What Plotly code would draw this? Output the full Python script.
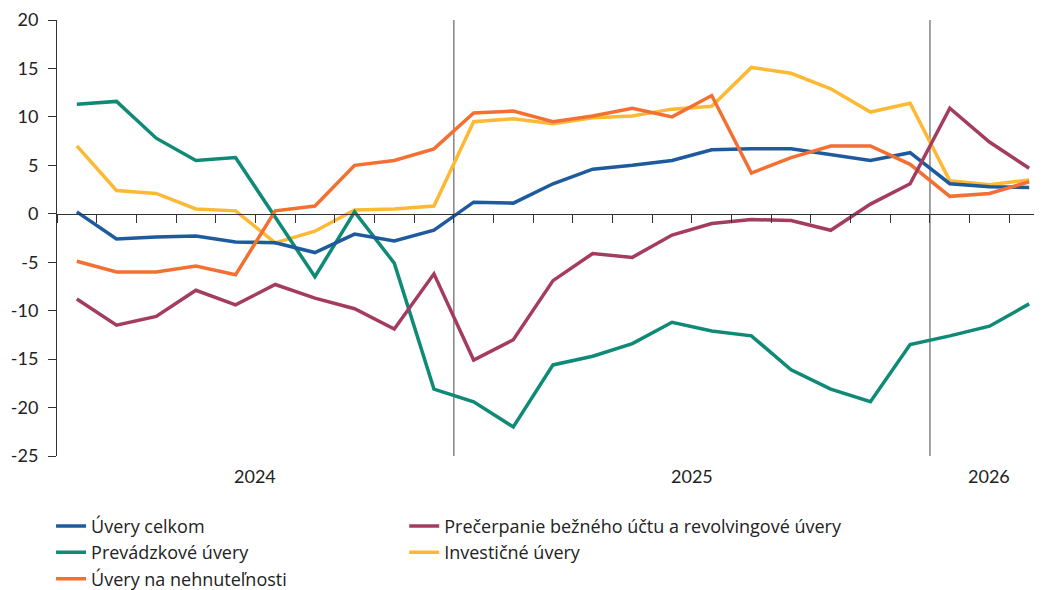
import plotly.graph_objects as go

months = (["%02d/2024" % m for m in range(3, 13)]
          + ["%02d/2025" % m for m in range(1, 13)]
          + ["%02d/2026" % m for m in range(1, 4)])

uvery_celkom = [0.2, -2.6, -2.4, -2.3, -2.9, -3.0, -4.0, -2.1, -2.8, -1.7, 1.2, 1.1, 3.1,
                4.6, 5.0, 5.5, 6.6, 6.7, 6.7, 6.1, 5.5, 6.3, 3.1, 2.8, 2.7]
prevadzkove = [11.3, 11.6, 7.8, 5.5, 5.8, -0.4, -6.5, 0.2, -5.1, -18.1, -19.4, -22.0, -15.6,
               -14.7, -13.4, -11.2, -12.1, -12.6, -16.1, -18.1, -19.4, -13.5, -12.6, -11.6, -9.3]
nehnutelnosti = [-4.9, -6.0, -6.0, -5.4, -6.3, 0.3, 0.8, 5.0, 5.5, 6.7, 10.4, 10.6, 9.5,
                 10.1, 10.9, 10.0, 12.2, 4.2, 5.8, 7.0, 7.0, 5.1, 1.8, 2.1, 3.3]
precerpanie = [-8.8, -11.5, -10.6, -7.9, -9.4, -7.3, -8.7, -9.8, -11.9, -6.2, -15.1, -13.0, -6.9,
               -4.1, -4.5, -2.2, -1.0, -0.6, -0.7, -1.7, 1.0, 3.1, 10.9, 7.4, 4.7]
investicne = [7.0, 2.4, 2.1, 0.5, 0.3, -3.0, -1.8, 0.4, 0.5, 0.8, 9.5, 9.8, 9.3,
              9.9, 10.1, 10.8, 11.1, 15.1, 14.5, 12.9, 10.5, 11.4, 3.4, 3.0, 3.5]

y_tickvals = [20, 15, 10, 5, 0, -5, -10, -15, -20, -25]
y_ticktext = ["20", "15", "10", "5", "0", "-5", "-10", "-15", "-20", "-25"]

years = ["2024", "2025", "2026"]
year_centers = [4.5, 15.5, 23.0]
year_breaks = [9.5, 21.5]

FONT = "Lato"
LEG_FONT = "Open Sans"
TXT = "#222222"

# (name, values, colour, legend, rank) in drawing order (last drawn on top)
series = [
    ("Investičné úvery", investicne, "#fdb933", "legend2", 2),
    ("Prevádzkové úvery", prevadzkove, "#0e8a77", "legend", 2),
    ("Úvery celkom", uvery_celkom, "#1d5a9e", "legend", 1),
    ("Úvery na nehnuteľnosti", nehnutelnosti, "#f37032", "legend", 3),
    ("Prečerpanie bežného účtu a revolvingové úvery", precerpanie, "#a43b60", "legend2", 1),
]

fig = go.Figure()
for name, vals, col, leg, rank in series:
    fig.add_trace(go.Scatter(x=months, y=vals, mode="lines", name=name,
                             line=dict(color=col, width=3.5), legend=leg, legendrank=rank))

for xb in year_breaks:
    fig.add_shape(type="line", xref="x", yref="paper", x0=xb, x1=xb, y0=0, y1=1,
                  line=dict(color="#8c8c8c", width=1.6), layer="below")

for yr, xc in zip(years, year_centers):
    fig.add_annotation(text=yr, x=xc, xref="x", y=-0.0457, yref="paper",
                       yanchor="middle", xanchor="center", showarrow=False,
                       font=dict(family=FONT, size=18, color=TXT))

leg_common = dict(orientation="v", yanchor="top", xanchor="left", tracegroupgap=0,
                  font=dict(family=LEG_FONT, size=18, color=TXT), bgcolor="rgba(0,0,0,0)",
                  traceorder="normal")

fig.update_layout(
    width=1042, height=590,
    margin=dict(l=49, r=1, t=12, b=142, autoexpand=False),
    plot_bgcolor="white", paper_bgcolor="white",
    font=dict(family=FONT, size=18, color=TXT),
    xaxis=dict(type="category", range=[-0.5, 24.5], showticklabels=False,
               tickson="boundaries", ticks="outside", ticklen=8, tickcolor="#333333",
               showline=True, linecolor="#333333", linewidth=1, showgrid=False,
               zeroline=False, anchor="free", position=25 / 45),
    yaxis=dict(range=[-25, 20], tickvals=y_tickvals, ticktext=y_ticktext,
               ticks="outside", ticklen=8, tickcolor="#333333", showline=True,
               linecolor="#333333", linewidth=1, showgrid=False, zeroline=False,
               domain=[0, 1], ticklabelstandoff=6, ticklabeloverflow="allow"),
    legend=dict(x=-0.006, y=-0.1187, **leg_common),
    legend2=dict(x=0.350, y=-0.1187, **leg_common),
    showlegend=True,
)

fig.write_html("out.html")
